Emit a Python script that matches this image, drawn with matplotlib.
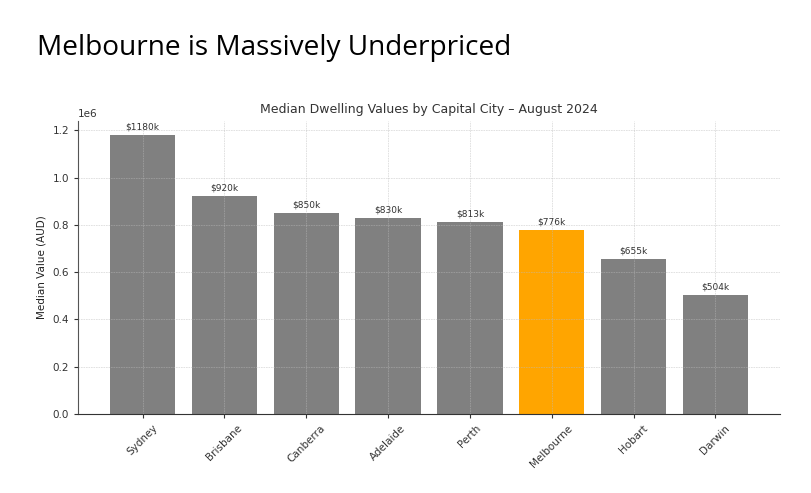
import matplotlib
matplotlib.use("Agg")
import matplotlib.pyplot as plt

cities = ["Sydney", "Brisbane", "Canberra", "Adelaide", "Perth", "Melbourne", "Hobart", "Darwin"]
values = [1180000, 920000, 850000, 830000, 813000, 776000, 655000, 504000]
labels = ["$1180k", "$920k", "$850k", "$830k", "$813k", "$776k", "$655k", "$504k"]
highlight = "Melbourne"

fig = plt.figure(figsize=(8.11, 4.93), dpi=100)
fig.text(37/811, 1 - 55/493, "Melbourne is Massively Underpriced", fontsize=20.2,
         family="Open Sans", ha="left", va="baseline")

ax = fig.add_axes([78/811, 1 - 414/493, (780-78)/811, (414-121)/493])
colors = ["orange" if c == highlight else "gray" for c in cities]
bars = ax.bar(cities, values, color=colors, width=0.8)
for b, lab in zip(bars, labels):
    ax.text(b.get_x() + b.get_width()/2, b.get_height() + 15000, lab,
            ha="center", va="bottom", fontsize=6.5, color="#333333")
ax.set_title("Median Dwelling Values by Capital City – August 2024", fontsize=9, color="#333333", pad=6)
ax.set_ylabel("Median Value (AUD)", fontsize=7.5, color="#222222")
ax.grid(True, linestyle=(0, (2, 1)), color="#bbbbbb", linewidth=0.6, alpha=0.5)
ax.set_axisbelow(False)
ax.spines["top"].set_visible(False)
ax.spines["right"].set_visible(False)
ax.spines["left"].set_color("#555555")
ax.spines["bottom"].set_color("#333333")
ax.tick_params(axis="both", labelsize=7.5, colors="#333333", length=3)
ax.tick_params(axis="x", rotation=45)
ax.yaxis.get_offset_text().set_fontsize(7.5)
for t in ax.get_xticklabels():
    t.set_ha("center")
fig.savefig("out.png", dpi=100)
